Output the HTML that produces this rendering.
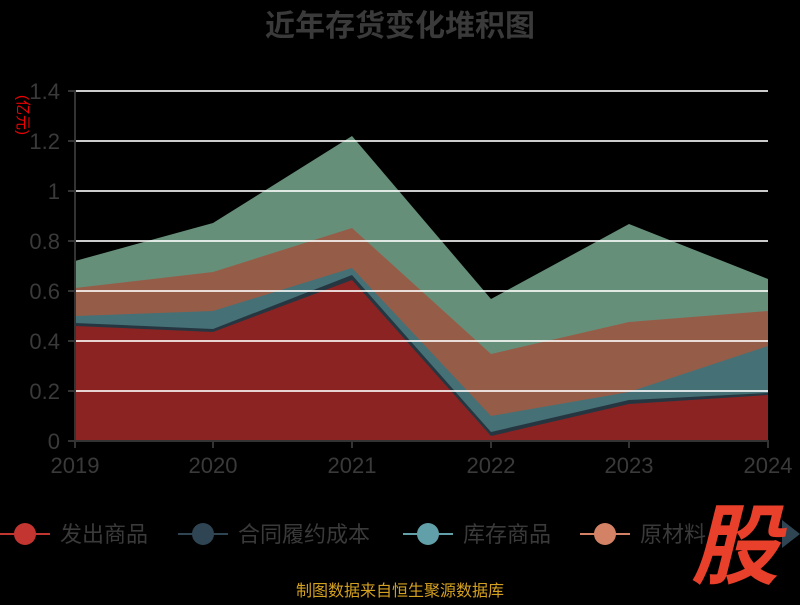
<!DOCTYPE html>
<html><head><meta charset="utf-8"><style>
body{margin:0;background:#000;width:800px;height:600px;overflow:hidden;font-family:"Liberation Sans","Noto Sans CJK SC",sans-serif}
</style></head><body>
<svg width="800" height="600" xmlns="http://www.w3.org/2000/svg" style="font-family:'Liberation Sans','Noto Sans CJK SC',sans-serif">
<text x="400" y="36" text-anchor="middle" font-size="30" font-weight="bold" fill="#3a3a3a">近年存货变化堆积图</text>
<text transform="translate(18,115) rotate(90)" font-size="15" fill="#e00" text-anchor="middle">(亿元)</text>
<g>
<polygon fill="#668f7a" points="75,261 213,223 352,136 491,299 629,224 768,279 768,441 75,441"/>
<polygon fill="#955d48" points="75,288 213,272 352,228 491,354 629,322 768,311 768,441 75,441"/>
<polygon fill="#457076" points="75,316 213,311 352,268 491,416 629,392 768,346 768,441 75,441"/>
<polygon fill="#263640" points="75,323 213,329 352,275 491,432 629,400 768,393 768,441 75,441"/>
<polygon fill="#8b2323" points="75,326 213,332 352,280 491,436 629,404 768,395 768,441 75,441"/>
</g>
<g stroke="#fff" stroke-opacity="0.8" stroke-width="2">
<line x1="75" x2="768" y1="91" y2="91"/><line x1="75" x2="768" y1="141" y2="141"/>
<line x1="75" x2="768" y1="191" y2="191"/><line x1="75" x2="768" y1="241" y2="241"/>
<line x1="75" x2="768" y1="291" y2="291"/><line x1="75" x2="768" y1="341" y2="341"/>
<line x1="75" x2="768" y1="391" y2="391"/>
</g>
<g stroke="#333" stroke-width="2">
<line x1="75" x2="75" y1="90" y2="441"/><line x1="68" x2="769" y1="441" y2="441"/>
<line x1="68" x2="75" y1="91" y2="91"/><line x1="68" x2="75" y1="141" y2="141"/><line x1="68" x2="75" y1="191" y2="191"/><line x1="68" x2="75" y1="241" y2="241"/><line x1="68" x2="75" y1="291" y2="291"/><line x1="68" x2="75" y1="341" y2="341"/><line x1="68" x2="75" y1="391" y2="391"/>
<line x1="75" x2="75" y1="441" y2="448"/><line x1="213" x2="213" y1="441" y2="448"/><line x1="352" x2="352" y1="441" y2="448"/><line x1="491" x2="491" y1="441" y2="448"/><line x1="629" x2="629" y1="441" y2="448"/><line x1="768" x2="768" y1="441" y2="448"/>
</g>
<g font-size="22" fill="#3a3a3a" text-anchor="end">
<text x="60" y="99">1.4</text><text x="60" y="149">1.2</text><text x="60" y="199">1</text><text x="60" y="249">0.8</text><text x="60" y="299">0.6</text><text x="60" y="349">0.4</text><text x="60" y="399">0.2</text><text x="60" y="449">0</text>
</g>
<g font-size="22" fill="#3a3a3a" text-anchor="middle">
<text x="75" y="473">2019</text><text x="213" y="473">2020</text><text x="352" y="473">2021</text><text x="491" y="473">2022</text><text x="629" y="473">2023</text><text x="768" y="473">2024</text>
</g>
<g font-size="22" fill="#3a3a3a">
<line x1="0" x2="50" y1="534" y2="534" stroke="#c23531" stroke-width="2"/><ellipse cx="25" cy="534" rx="11" ry="11" fill="#c23531"/><text x="60" y="542">发出商品</text>
<line x1="178" x2="228" y1="534" y2="534" stroke="#2f4554" stroke-width="2"/><ellipse cx="203" cy="534" rx="11" ry="11" fill="#2f4554"/><text x="238" y="542">合同履约成本</text>
<line x1="403" x2="453" y1="534" y2="534" stroke="#61a0a8" stroke-width="2"/><ellipse cx="428" cy="534" rx="11" ry="11" fill="#61a0a8"/><text x="463" y="542">库存商品</text>
<line x1="580" x2="630" y1="534" y2="534" stroke="#d48265" stroke-width="2"/><ellipse cx="605" cy="534" rx="11" ry="11" fill="#d48265"/><text x="640" y="542">原材料</text>
</g>
<polygon points="782,520 800,534 782,548" fill="#2f4554"/>
<text x="735" y="577" text-anchor="middle" font-size="88" font-weight="bold" font-style="italic" fill="#e8402a">股</text>
<text x="400" y="596" text-anchor="middle" font-size="16" fill="#d4a020">制图数据来自恒生聚源数据库</text>
</svg>
</body></html>
